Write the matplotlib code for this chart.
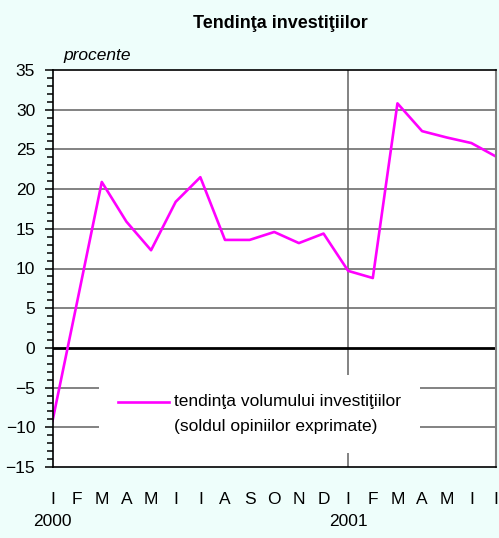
import matplotlib
matplotlib.use("Agg")
import matplotlib.pyplot as plt
import numpy as np
from matplotlib.ticker import MultipleLocator
from matplotlib.legend_handler import HandlerLine2D
import matplotlib.transforms as mtransforms

plt.rcParams['font.family'] = ['Liberation Sans', 'DejaVu Sans']

months = ["I", "F", "M", "A", "M", "I", "I", "A", "S", "O", "N", "D",
          "I", "F", "M", "A", "M", "I", "I"]
years = ["2000", "2001"]
year_month_index = [0, 12]
values = [-9.2, 5.8, 20.9, 15.9, 12.3, 18.4, 21.5, 13.6, 13.6, 14.6, 13.2, 14.4,
          9.7, 8.8, 30.8, 27.3, 26.5, 25.8, 24.1]
series_label = "tendinţa volumului investiţiilor\n(soldul opiniilor exprimate)"
yticks = list(range(-15, 36, 5))


class FirstLineHandler(HandlerLine2D):
    def __init__(self, shift, **kw):
        super().__init__(**kw)
        self.shift = shift

    def create_artists(self, legend, orig_handle, xdescent, ydescent, width,
                       height, fontsize, trans):
        return super().create_artists(legend, orig_handle, xdescent,
                                      ydescent - 2 * self.shift, width, height,
                                      fontsize, trans)


FS = 12.5
bg = "#EEFEFB"
fig = plt.figure(figsize=(4.99, 5.38), dpi=100, facecolor=bg)
ax = fig.add_axes([52.5/499, 1-467/538, (496-52.5)/499, (467-70)/538])
ax.set_facecolor("white")

x = np.arange(len(values))
ax.set_xlim(0, len(values) - 1)
ax.set_ylim(-15, 35)

# grid
for v in yticks:
    if v == 0:
        ax.axhline(v, color="black", lw=2.0, zorder=3)
    elif -15 < v < 35:
        ax.axhline(v, color="#616161", lw=1.1, zorder=1)
ax.axvline(year_month_index[1], color="#616161", lw=1.1, zorder=1)

line, = ax.plot(x, values, color="#FF00FF", lw=1.9, zorder=4, label=series_label)

leg = ax.legend(loc="lower left", bbox_to_anchor=(0.105, 0.035), borderaxespad=0,
                frameon=True, facecolor="white", edgecolor="white", framealpha=1,
                fancybox=False, fontsize=FS, borderpad=1.1, handlelength=2.95,
                handletextpad=0.25, handler_map={line: FirstLineHandler(9.0)})
leg.set_zorder(5)
leg.get_frame().set_linewidth(0)
for t in leg.get_texts():
    t.set_linespacing(1.82)

# spines
for s in ["left", "top", "bottom"]:
    ax.spines[s].set_color("black")
    ax.spines[s].set_linewidth(1.2)
ax.spines["right"].set_color("#808080")
ax.spines["right"].set_linewidth(1.5)
for s in ax.spines.values():
    s.set_zorder(6)

ax.set_yticks(yticks)
ax.yaxis.set_minor_locator(MultipleLocator(1))
ax.set_yticklabels([("\u2212" + str(-v)) if v < 0 else str(v) for v in yticks])
ax.tick_params(axis="y", which="major", direction="out", length=6, width=1.1,
               labelsize=FS, pad=6.5)
ax.tick_params(axis="y", which="minor", direction="out", length=4.5, width=1.1)

ax.set_xticks(x)
ax.set_xticklabels(months)
ax.tick_params(axis="x", which="both", length=0, labelsize=FS, pad=18)

trans = mtransforms.blended_transform_factory(ax.transData, fig.transFigure)
for yi, lab in zip(year_month_index, years):
    ax.text(yi, 1 - 522/538, lab, transform=trans, ha="center", va="center", fontsize=FS)

fig.text(280/499, 1 - 28/538, "Tendinţa investiţiilor", ha="center", va="baseline",
         fontsize=13, fontweight="bold")
fig.text(63/499, 1 - 60/538, "procente", ha="left", va="baseline", fontsize=FS,
         style="italic")

fig.savefig("out.png", dpi=100, facecolor=bg)
